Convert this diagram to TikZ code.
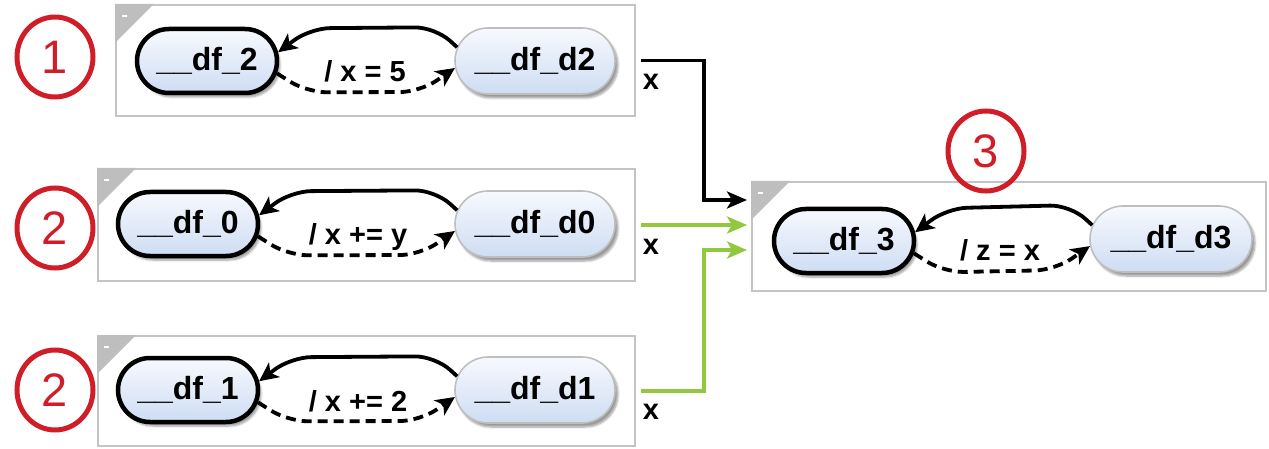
\documentclass[tikz,border=0pt]{standalone}
\usepackage{fontspec}
\setmainfont{Liberation Sans}
\usetikzlibrary{arrows.meta,shapes.misc,shapes.geometric,shadows.blur,calc}

\definecolor{framegrey}{RGB}{196,196,196}
\definecolor{cornergrey}{RGB}{190,190,190}
\definecolor{nodetop}{RGB}{247,249,254}
\definecolor{nodebot}{RGB}{206,221,243}
\definecolor{dborder}{RGB}{190,190,190}
\definecolor{marker}{RGB}{208,30,40}
\definecolor{flowgreen}{RGB}{146,200,62}

\tikzset{
  frame/.style={draw=framegrey, line width=2pt, rectangle, inner sep=0pt},
  statebase/.style={rounded rectangle, inner sep=0pt, top color=nodetop, bottom color=nodebot,
    font=\fontsize{32}{32}\selectfont\bfseries,
    blur shadow={shadow xshift=3pt, shadow yshift=-4pt, shadow opacity=40, shadow blur steps=6}},
  initstate/.style={statebase, draw=black, line width=4.5pt, minimum width=140pt, minimum height=64pt},
  donestate/.style={statebase, draw=dborder, line width=1.6pt, minimum width=160pt, minimum height=66pt},
  backtr/.style={draw=black, line width=3.8pt, rounded corners=20pt,
    -{Stealth[length=19pt,width=18pt,inset=5pt]}},
  fwdtr/.style={backtr, dash pattern=on 10pt off 6pt},
  trlabel/.style={font=\fontsize{29}{29}\selectfont\bfseries, inner sep=0pt},
  flowtip/.style={line width=3.5pt, -{Stealth[length=20pt,width=17pt,inset=5pt]}},
  varlabel/.style={font=\fontsize{29}{29}\selectfont\bfseries, inner sep=0pt},
  marknum/.style={ellipse, draw=marker, line width=5pt, minimum width=76pt, minimum height=80pt,
    inner sep=0pt, text=marker, font=\fontsize{47}{47}\selectfont},
}

\begin{document}
\begin{tikzpicture}[x=1pt, y=-1pt]
\useasboundingbox (0,0) rectangle (1269,449);

% region frames
\node[frame, minimum width=519pt, minimum height=111pt] (boxA) at (375.5,60.5) {};
\node[frame, minimum width=537pt, minimum height=112pt] (boxB) at (366.5,225) {};
\node[frame, minimum width=537pt, minimum height=110pt] (boxC) at (366.5,391) {};
\node[frame, minimum width=514pt, minimum height=109pt] (boxD) at (1009,236.5) {};

% folded corner tabs
\foreach \b in {boxA,boxB,boxC,boxD}{
  \fill[cornergrey] (\b.north west) -- ++(39,0) -- ++(-39,39) -- cycle;
  \draw[white, line width=1.8pt] ($(\b.north west)+(7,12)$) -- ++(5,0);
}

% numbered markers
\node[marknum] (m1) at (55,57) {1};
\node[marknum] (m2) at (55,228) {2};
\node[marknum] (m3) at (55,390) {2};
\node[marknum] (m4) at (986,151) {3};

% states
\node[initstate] (n2) at (207,61) {\_\_df\_2};
\node[donestate] (d2) at (535,61) {\_\_df\_d2};
\node[initstate] (n0) at (188,224) {\_\_df\_0};
\node[donestate] (d0) at (535,224) {\_\_df\_d0};
\node[initstate] (n1) at (188,390) {\_\_df\_1};
\node[donestate] (d1) at (535,390) {\_\_df\_d1};
\node[initstate] (n3) at (844,241) {\_\_df\_3};
\node[donestate, minimum width=162pt] (d3) at (1171,239) {\_\_df\_d3};

% transitions inside each region
\foreach \i/\d in {n2/d2,n0/d0,n1/d1,n3/d3}{
  \draw[backtr] (\d.170) -- ++(-22,-20) -- ($(\i.7)+(32,-24)$) -- (\i.7);
  \draw[fwdtr] (\i.-10) -- ++(30,19) -- ($(\d.185)+(-35,24)$) -- (\d.185);
}

% transition labels
\node[trlabel] (l2) at (365,71) {/ x = 5};
\node[trlabel] (l0) at (358,237) {/ x += y};
\node[trlabel] (l1) at (358,401) {/ x += 2};
\node[trlabel] (l3) at (1000,250) {/ z = x};

% data flow between regions
\draw[flowtip, black] ([xshift=5pt]boxA.east) -| ([xshift=-47pt,yshift=36.5pt]boxD.west)
  -- ([xshift=-4pt,yshift=36.5pt]boxD.west);
\draw[flowtip, flowgreen] ([xshift=5pt]boxB.east) -- ([xshift=-4pt]boxB.east -| boxD.west);
\draw[flowtip, flowgreen] ([xshift=5pt]boxC.east) -| ([xshift=-47pt,yshift=-13.5pt]boxD.west)
  -- ([xshift=-4pt,yshift=-13.5pt]boxD.west);

% variable labels
\node[varlabel] (xa) at (651,82) {x};
\node[varlabel] (xb) at (651,247) {x};
\node[varlabel] (xc) at (651,412) {x};
\end{tikzpicture}
\end{document}
